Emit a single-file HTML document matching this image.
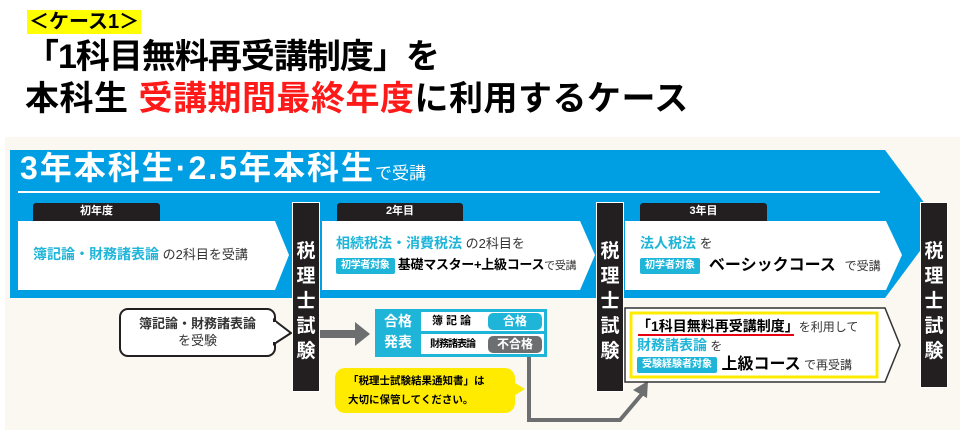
<!DOCTYPE html>
<html><head><meta charset="utf-8"><style>
*{margin:0;padding:0;box-sizing:border-box}
body{width:960px;height:436px;background:#fff;position:relative;overflow:hidden;font-family:"Liberation Sans","Noto Sans CJK JP",sans-serif;font-weight:bold}
.a{position:absolute;white-space:nowrap}
.tab{position:absolute;background:#231f20;color:#fff;font-size:11px;text-align:center;line-height:17px;height:18px;border-radius:3px 3px 0 0}
.bar{position:absolute;background:#231f20;color:#fff;font-size:19px;width:28px;text-align:center;line-height:25px;padding-top:36px;border:1px solid #fff}
.cy{color:#1fb5d8}
.g{color:#333;font-weight:normal}
.tag{display:inline-block;background:#1fb5d8;color:#fff;font-size:10px;padding:0 5px;line-height:16px;border-radius:2px;vertical-align:middle}
</style></head><body>
<div class="a" style="left:27px;top:10px;background:#ffff00;font-size:20px;line-height:24px;padding:0 2px">＜ケース1＞</div>
<div class="a" style="left:25px;top:37px;font-size:34px;line-height:40px;letter-spacing:-1px">「1科目無料再受講制度」を</div>
<div class="a" style="left:25px;top:79px;font-size:34px;line-height:40px;letter-spacing:0.5px">本科生 <span style="color:#ff1a1a">受講期間最終年度</span>に利用するケース</div>
<div class="a" style="left:5px;top:137px;width:955px;height:293px;background:#faf8f0"></div>
<svg class="a" style="left:0;top:0" width="960" height="436">
<polygon points="10,150 885,150 940,224 885,298 10,298" fill="#009fe3"/>
<line x1="18" y1="192" x2="880" y2="192" stroke="#fff" stroke-width="2"/>
<polygon points="18,221 275,221 289,255 275,290 18,290" fill="#fff"/>
<polygon points="322,221 580,221 595,255 580,290 322,290" fill="#fff"/>
<polygon points="625,221 886,221 902,255 886,290 625,290" fill="#fff"/>
<rect x="120" y="309" width="155" height="47" rx="8" fill="#fff" stroke="#231f20" stroke-width="2"/>
<polygon points="274,320 291,333 274,344" fill="#fff" stroke="#231f20" stroke-width="2"/>
<rect x="272" y="322" width="4" height="20" fill="#fff"/>
<polygon points="320,330 355,330 355,322 370,334 355,346 355,338 320,338" fill="#6d6e70"/>
<rect x="375" y="309" width="172" height="48" fill="#1fb5d8"/>
<rect x="421" y="312" width="123" height="19" fill="#fff"/>
<rect x="421" y="334" width="123" height="20" fill="#fff"/>
<rect x="488" y="313" width="54" height="17" rx="5" fill="#1fb5d8"/>
<rect x="488" y="336" width="54" height="17" rx="5" fill="#6d6e70"/>
<rect x="335" y="368" width="180" height="45" rx="10" fill="#ffeb00"/>
<polygon points="512,381 525,389 512,397" fill="#ffeb00"/>
<polyline points="529,357 529,420 620,420 642,394" fill="none" stroke="#6d6e70" stroke-width="4"/>
<polygon points="633,390 648,381 647,398" fill="#6d6e70"/>
<polygon points="625,308 885,308 900,345 885,382 625,382" fill="#fff" stroke="#333" stroke-width="1.5"/>
<rect x="631" y="313" width="246" height="64" fill="none" stroke="#ffeb00" stroke-width="3"/>
<line x1="638" y1="335" x2="794" y2="335" stroke="#e60012" stroke-width="2"/>
</svg>
<div class="a" style="left:20px;top:150px;font-size:32px;line-height:36px;color:#fff;letter-spacing:2px">3年本科生·2.5年本科生<span style="font-size:17px;font-weight:normal;letter-spacing:0">で受講</span></div>
<div class="tab" style="left:33px;top:203px;width:127px">初年度</div>
<div class="tab" style="left:337px;top:203px;width:126px">2年目</div>
<div class="tab" style="left:640px;top:203px;width:127px">3年目</div>
<div class="bar" style="left:292px;top:202px;height:190px">税<br>理<br>士<br>試<br>験</div>
<div class="bar" style="left:596px;top:202px;height:190px">税<br>理<br>士<br>試<br>験</div>
<div class="bar" style="left:920px;top:202px;height:186px">税<br>理<br>士<br>試<br>験</div>
<div class="a" style="left:33px;top:244px;font-size:14px;line-height:20px"><span class="cy">簿記論・財務諸表論</span><span class="g" style="font-size:13px"> の2科目を受講</span></div>
<div class="a" style="left:336px;top:233px;font-size:14px;line-height:20px"><span class="cy">相続税法・消費税法</span><span class="g" style="font-size:13px"> の2科目を</span></div>
<div class="a" style="left:336px;top:255px;font-size:13px;line-height:20px;letter-spacing:-0.3px"><span class="tag">初学者対象</span> 基礎マスター+上級コース<span class="g" style="font-size:11px">で受講</span></div>
<div class="a" style="left:640px;top:233px;font-size:14px;line-height:20px"><span class="cy">法人税法</span><span class="g" style="font-size:13px"> を</span></div>
<div class="a" style="left:640px;top:255px;font-size:16px;line-height:22px"><span class="tag">初学者対象</span> &nbsp;ベーシックコース &nbsp;<span class="g" style="font-size:12px">で受講</span></div>
<div class="a" style="left:120px;top:315px;width:155px;text-align:center;font-size:13px;line-height:17px;color:#333">簿記論・財務諸表論<br><span style="font-weight:normal">を受験</span></div>
<div class="a" style="left:375px;top:311px;width:46px;text-align:center;font-size:14px;line-height:21px;color:#fff">合格<br>発表</div>
<div class="a" style="left:432px;top:313px;font-size:11px;line-height:17px;letter-spacing:3px">簿記論</div>
<div class="a" style="left:430px;top:336px;font-size:10px;line-height:17px;letter-spacing:-1px">財務諸表論</div>
<div class="a" style="left:488px;top:313px;width:54px;text-align:center;font-size:12px;line-height:17px;color:#fff">合格</div>
<div class="a" style="left:488px;top:336px;width:54px;text-align:center;font-size:12px;line-height:17px;color:#fff">不合格</div>
<div class="a" style="left:348px;top:372px;font-size:10.5px;line-height:19px">「税理士試験結果通知書」は<br>大切に保管してください。</div>
<div class="a" style="left:637px;top:317px;font-size:14px;line-height:19px">「1科目無料再受講制度」<span class="g" style="font-size:12px">を利用して</span></div>
<div class="a" style="left:637px;top:336px;font-size:14px;line-height:19px"><span class="cy">財務諸表論</span><span class="g" style="font-size:12px"> を</span></div>
<div class="a" style="left:637px;top:355px;font-size:16px;line-height:20px"><span class="tag">受験経験者対象</span> 上級コース<span class="g" style="font-size:12px"> で再受講</span></div>
</body></html>
